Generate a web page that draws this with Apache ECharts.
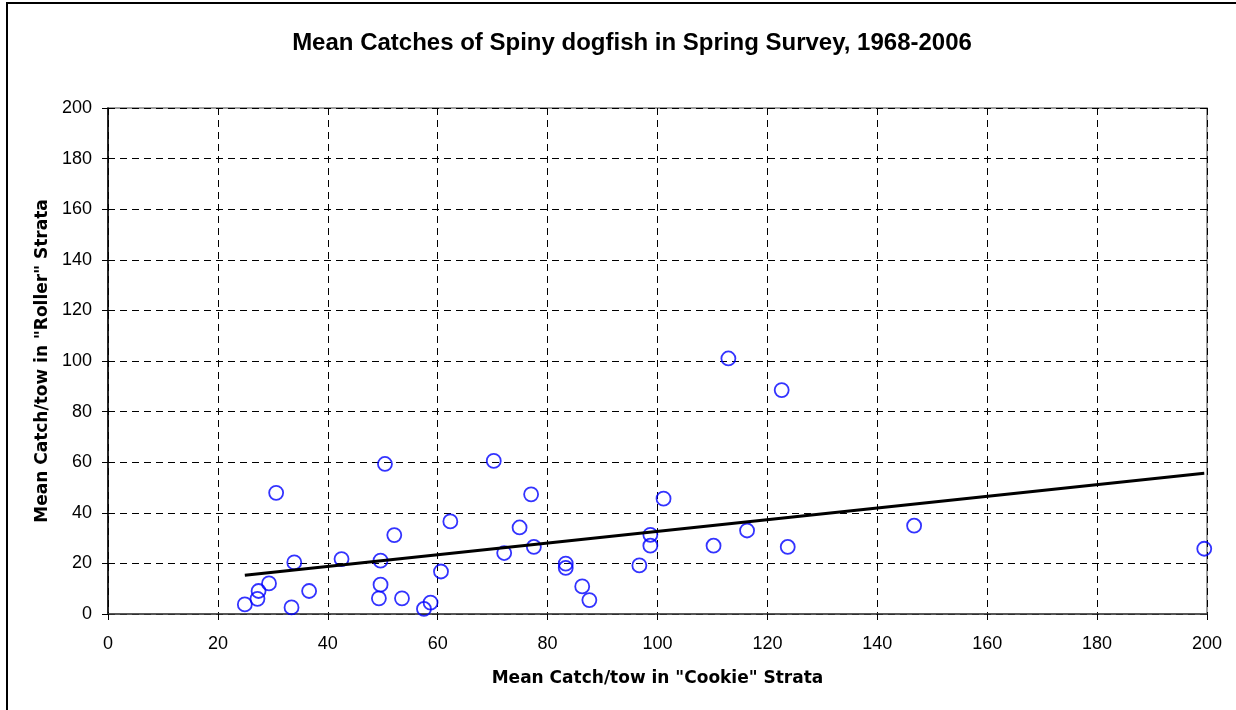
<!DOCTYPE html>
<html>
<head>
<meta charset="utf-8">
<title>Spiny dogfish</title>
<script src="https://cdn.jsdelivr.net/npm/echarts@6/dist/echarts.min.js"></script>
<style>
html,body{margin:0;padding:0;background:#fff;}
#frame{position:absolute;left:6px;top:2px;width:1236px;height:720px;border-left:2px solid #000;border-top:2px solid #000;}
#chart{position:absolute;left:0;top:0;width:1236px;height:710px;}
</style>
</head>
<body>
<div id="frame"></div>
<div id="chart"></div>
<script>
// mean catch/tow, one point per survey year
var cookieCatch = [24.9, 27.2, 27.4, 29.3, 30.6, 33.4, 33.9, 36.6, 42.5, 50.4,
	49.6, 52.1, 49.6, 49.3, 53.5, 57.5, 58.7, 60.6, 62.3, 70.2,
	77.0, 74.9, 72.1, 77.5, 83.3, 83.3, 86.3, 87.6, 96.7, 98.7,
	98.7, 101.1, 110.2, 116.3, 112.9, 122.6, 123.7, 146.7, 199.5];
var rollerCatch = [3.8, 6.0, 9.1, 12.1, 47.9, 2.6, 20.4, 9.1, 21.7, 59.3,
	21.1, 31.2, 11.6, 6.2, 6.2, 2.0, 4.5, 16.8, 36.6, 60.5,
	47.3, 34.2, 24.1, 26.5, 19.9, 18.2, 10.9, 5.5, 19.2, 31.3,
	27.0, 45.6, 27.0, 33.0, 101.0, 88.5, 26.5, 34.9, 25.8];
var axisMin = 0, axisMax = 200, axisStep = 20;

var pts = [];
for (var i = 0; i < cookieCatch.length; i++) {
	pts.push([cookieCatch[i], rollerCatch[i]]);
}
// linear trendline (least squares)
var n = pts.length, sx = 0, sy = 0, sxx = 0, sxy = 0;
for (var i = 0; i < n; i++) {
	sx += pts[i][0]; sy += pts[i][1];
	sxx += pts[i][0] * pts[i][0]; sxy += pts[i][0] * pts[i][1];
}
var slope = (n * sxy - sx * sy) / (n * sxx - sx * sx);
var icpt = (sy - slope * sx) / n;
var xLo = Math.min.apply(null, cookieCatch), xHi = Math.max.apply(null, cookieCatch);
var trend = [[xLo, icpt + slope * xLo], [xHi, icpt + slope * xHi]];

var font = 'Liberation Sans, Arial, sans-serif';
var nameFont = 'DejaVu Sans, Liberation Sans, sans-serif';
var gridLine = {show: true, lineStyle: {color: '#000', width: 1, type: [7, 5]}};

var chart = echarts.init(document.getElementById('chart'));
chart.setOption({
	animation: false,
	title: {
		text: 'Mean Catches of Spiny dogfish in Spring Survey, 1968-2006',
		left: 627, top: 26, textAlign: 'center',
		textStyle: {fontFamily: font, fontSize: 24, fontWeight: 'bold', color: '#000'}
	},
	grid: {left: 108, top: 108, right: 29, bottom: 96, show: true, borderColor: '#808080', borderWidth: 1.5},
	xAxis: {
		type: 'value', min: axisMin, max: axisMax, interval: axisStep,
		name: 'Mean Catch/tow in "Cookie" Strata', nameLocation: 'middle', nameGap: 56,
		nameTextStyle: {fontFamily: nameFont, fontSize: 17, fontWeight: 'bold', color: '#000'},
		axisLine: {lineStyle: {color: '#404040', width: 1.5}},
		axisTick: {show: true, length: 6, lineStyle: {color: '#000'}},
		axisLabel: {fontFamily: font, fontSize: 18, color: '#000', margin: 21},
		splitLine: gridLine
	},
	yAxis: {
		type: 'value', min: axisMin, max: axisMax, interval: axisStep,
		name: 'Mean Catch/tow in "Roller" Strata', nameLocation: 'middle', nameGap: 56,
		nameTextStyle: {fontFamily: nameFont, fontSize: 17, fontWeight: 'bold', color: '#000'},
		axisLine: {show: true, lineStyle: {color: '#000', width: 1.5}},
		axisTick: {show: true, length: 6, lineStyle: {color: '#000'}},
		axisLabel: {fontFamily: font, fontSize: 18, color: '#000', margin: 16},
		splitLine: gridLine
	},
	series: [{
		type: 'scatter', data: pts, symbol: 'circle', symbolSize: 14,
		itemStyle: {color: 'rgba(0,0,0,0)', borderColor: '#0000ff', borderWidth: 1.8}
	}, {
		type: 'line', data: trend, symbol: 'none',
		lineStyle: {color: '#000', width: 3}
	}]
});
</script>
</body>
</html>
